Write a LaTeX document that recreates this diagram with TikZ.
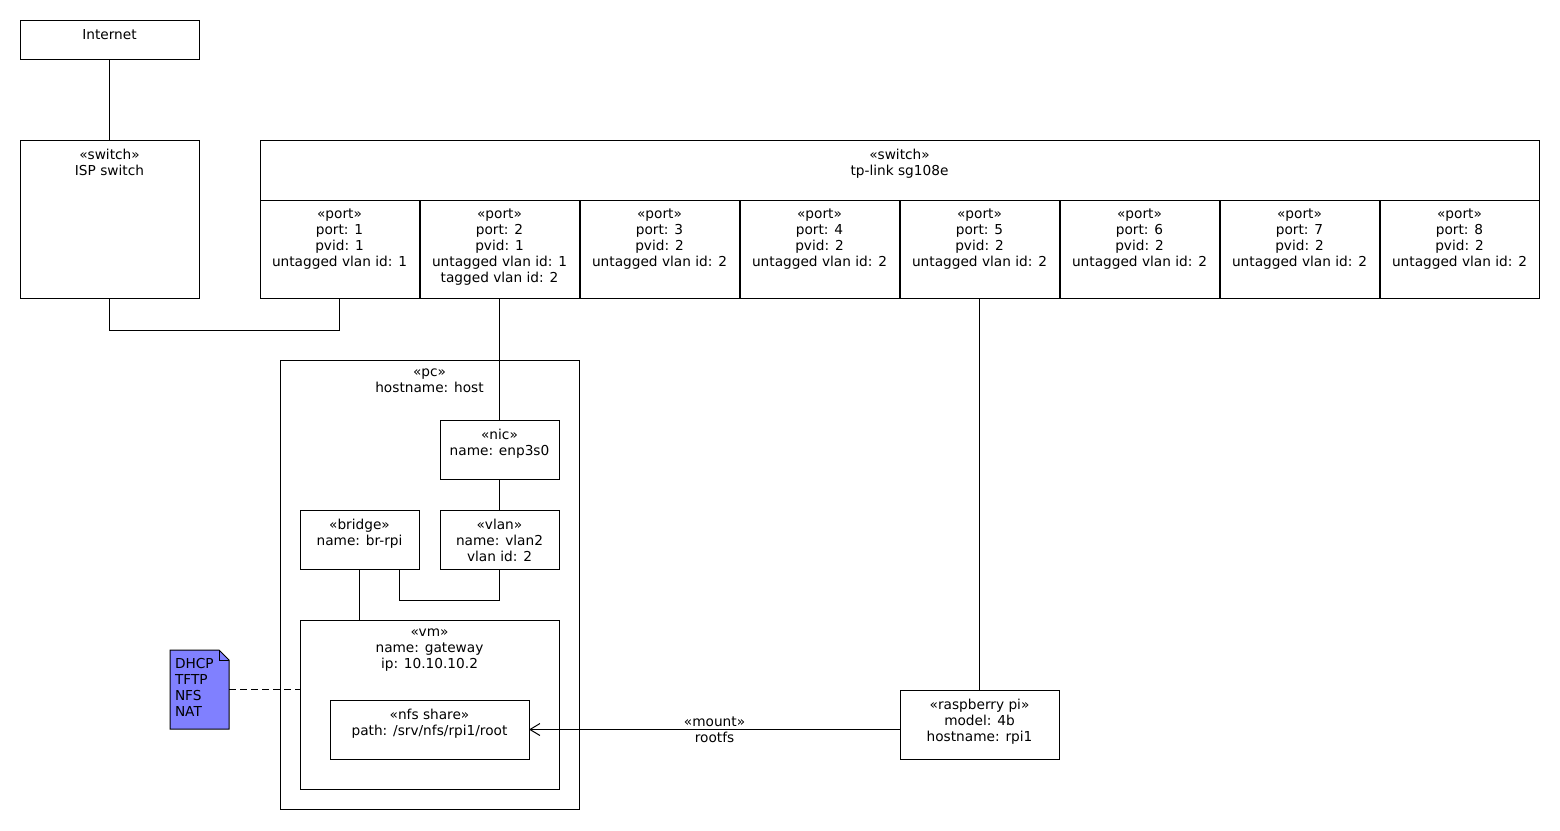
\documentclass[tikz,border=0pt]{standalone}
\usepackage{fontspec}
\setmainfont{DejaVu Sans}
\usetikzlibrary{arrows.meta}
\definecolor{noteblue}{RGB}{128,128,255}
\tikzset{
  box/.style={draw, line width=1pt, rectangle, inner sep=0pt, outer sep=0pt, anchor=north west},
  txt/.style={inner sep=0pt, outer sep=0pt, align=center, font=\fontsize{13.7}{16}\selectfont, execute at begin node=\strut},
  ltxt/.style={txt, align=left},
  conn/.style={line width=1pt},
}
\newcommand\mybox[6]{%
  \node[box,minimum width=#4pt,minimum height=#5pt] (#1) at (#2,#3) {};
  \node[txt,anchor=north] at ([yshift=-8.6pt]#1.north) {#6};}
\begin{document}
\begin{tikzpicture}[x=1pt,y=-1pt]
\useasboundingbox (0,0) rectangle (1560,830);
\mybox{internet}{20}{20}{179}{39}{Internet}
\mybox{isp}{20}{140}{179}{158}{«switch»\\ISP switch}
\mybox{sw}{260}{140}{1279}{158}{«switch»\\tp-link sg108e}
\mybox{p1}{260}{200}{159}{98}{«port»\\port: 1\\pvid: 1\\untagged vlan id: 1}
\mybox{p2}{420}{200}{159}{98}{«port»\\port: 2\\pvid: 1\\untagged vlan id: 1\\tagged vlan id: 2}
\mybox{p3}{580}{200}{159}{98}{«port»\\port: 3\\pvid: 2\\untagged vlan id: 2}
\mybox{p4}{740}{200}{159}{98}{«port»\\port: 4\\pvid: 2\\untagged vlan id: 2}
\mybox{p5}{900}{200}{159}{98}{«port»\\port: 5\\pvid: 2\\untagged vlan id: 2}
\mybox{p6}{1060}{200}{159}{98}{«port»\\port: 6\\pvid: 2\\untagged vlan id: 2}
\mybox{p7}{1220}{200}{159}{98}{«port»\\port: 7\\pvid: 2\\untagged vlan id: 2}
\mybox{p8}{1380}{200}{159}{98}{«port»\\port: 8\\pvid: 2\\untagged vlan id: 2}
\mybox{pc}{280}{360}{299}{449}{«pc»\\hostname: host}
\mybox{nic}{440}{420}{119}{59}{«nic»\\name: enp3s0}
\mybox{vlan}{440}{510}{119}{59}{«vlan»\\name: vlan2\\vlan id: 2}
\mybox{bridge}{300}{510}{119}{59}{«bridge»\\name: br-rpi}
\mybox{vm}{300}{620}{259}{169}{«vm»\\name: gateway\\ip: 10.10.10.2}
\mybox{nfs}{330}{700}{199}{59}{«nfs share»\\path: /srv/nfs/rpi1/root}
\mybox{rpi}{900}{690}{159}{69}{«raspberry pi»\\model: 4b\\hostname: rpi1}
% note
\node[rectangle, inner sep=0pt, outer sep=0pt, anchor=north west, minimum width=59pt, minimum height=79pt] (note) at (170,650) {};
\draw[line width=1pt, fill=noteblue] (note.north west) -- ([xshift=-10pt]note.north east) -- ([yshift=-10pt]note.north east) -- (note.south east) -- (note.south west) -- cycle;
\draw[line width=1pt] ([xshift=-10pt]note.north east) |- ([yshift=-10pt]note.north east);
\node[ltxt, anchor=north west] at ([xshift=5pt,yshift=-8.4pt]note.north west) {DHCP\\TFTP\\NFS\\NAT};
% connectors
\draw[conn] (internet) -- (isp);
\draw[conn] (isp.south) -- ++(0,32) -| (p1.south);
\draw[conn] (p2.south) -- (nic.north);
\draw[conn] (p5.south) -- (rpi.north);
\draw[conn] (nic) -- (vlan);
\draw[conn] (bridge.south) -- (bridge.south |- vm.north);
\draw[conn] ([xshift=40pt]bridge.south) -- ++(0,31) -| (vlan.south);
\draw[conn, dash pattern=on 7pt off 4pt] (note.east) -- (note.east -| vm.west);
\draw[conn, -{Straight Barb[length=10pt,width=12pt,line width=1pt]}] (nfs.east -| rpi.west) -- node[txt, midway, yshift=-2.5pt] {«mount»\\rootfs} (nfs.east);
\end{tikzpicture}
\end{document}
